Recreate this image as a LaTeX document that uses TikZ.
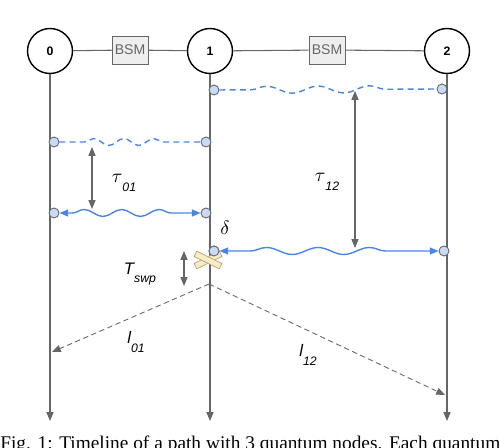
\documentclass[tikz,border=0pt]{standalone}
\usepackage{fontspec}
\setmainfont{Liberation Serif}
\setsansfont{Liberation Sans}
\usetikzlibrary{arrows.meta,decorations.pathmorphing}
\definecolor{linkblue}{HTML}{4A86E8}
\definecolor{dotfill}{HTML}{C9DAF8}
\definecolor{lgray}{HTML}{666666}
\definecolor{swapfill}{HTML}{FBEBC6}
\definecolor{swapdraw}{HTML}{B5A27A}
\tikzset{
	qnode/.style={circle, draw=black, line width=0.8pt, fill=white, minimum size=0.9cm, inner sep=0pt, font=\sffamily\bfseries\scriptsize},
	bsmbox/.style={draw=lgray, line width=0.5pt, fill=gray!13, minimum width=0.72cm, minimum height=0.56cm, inner sep=0pt, font=\sffamily\footnotesize, text=lgray},
	qubit/.style={circle, draw=lgray, line width=0.5pt, fill=dotfill, minimum size=0.2cm, inner sep=0pt},
	timeline/.style={draw=lgray, line width=0.6pt, -{Triangle[length=5pt,width=4pt]}},
	measure/.style={draw=lgray, line width=0.6pt, {Triangle[length=5pt,width=4pt]}-{Triangle[length=5pt,width=4pt]}},
	classic/.style={draw=lgray, line width=0.5pt, dash pattern=on 3pt off 2pt, -{Triangle[length=5pt,width=4pt]}},
	wave/.style n args={3}{decorate, decoration={snake, amplitude=0.07cm, segment length=#1, pre length=#2, post length=#3}},
	pairwait/.style={draw=linkblue, line width=0.8pt, dash pattern=on 3.4pt off 2.4pt},
	pairlink/.style={draw=linkblue, line width=0.8pt, {Triangle[length=5pt,width=4pt]}-{Triangle[length=5pt,width=4pt]}},
	swapbar/.style={draw=swapdraw, line width=0.4pt, fill=swapfill, minimum width=0.56cm, minimum height=0.12cm, inner sep=0pt},
	lbl/.style={inner sep=0pt, font=\sffamily\itshape}
}
\newcommand{\sublbl}[2]{{\fontsize{9.5}{10}\selectfont #1}\raisebox{-0.9ex}{\fontsize{7}{7}\selectfont #2}}
\begin{document}
\begin{tikzpicture}[x=0.02cm, y=-0.02cm]
	\useasboundingbox (0,0) rectangle (500,448);
	\begin{scope}
		\clip (0,0) rectangle (500,448);
		\node[anchor=north west, inner sep=0pt, font=\fontsize{11}{13}\selectfont] (caption) at (0,436) {\makebox[10cm][s]{Fig. 1: Timeline of a path with 3 quantum nodes. Each quantum}};
	\end{scope}
	\coordinate (t0) at (50,421);
	\coordinate (t1) at (210,421);
	\coordinate (t2) at (447,421);
	\node[qnode] (n0) at (50,51) {0};
	\node[qnode] (n1) at (210,51) {1};
	\node[qnode] (n2) at (447,51) {2};
	\node[bsmbox] (bsm01) at (130,50) {BSM};
	\node[bsmbox] (bsm12) at (327,50) {BSM};
	\draw[lgray, line width=0.6pt] (n0) -- (bsm01) -- (n1) -- (bsm12) -- (n2);
	\draw[timeline] (n0) -- (t0);
	\draw[timeline] (n1) -- (t1);
	\draw[timeline] (n2) -- (t2);
	\node[qubit] (q12a) at (214,90) {};
	\node[qubit] (q12b) at (442,89) {};
	\node[qubit] (q01a) at (54,142) {};
	\node[qubit] (q01b) at (206,142) {};
	\node[qubit] (p01a) at (54,213) {};
	\node[qubit] (p01b) at (206,213) {};
	\node[qubit] (p12a) at (214,251) {};
	\node[qubit] (p12b) at (444,251) {};
	\draw[pairwait, wave={1.03cm}{0.62cm}{0.58cm}] (q12a) -- (q12b);
	\draw[pairwait, wave={0.6cm}{0.5cm}{0.5cm}] (q01a) -- (q01b);
	\draw[pairlink, wave={0.75cm}{0.26cm}{0.26cm}] (p01a) -- (p01b);
	\draw[pairlink, wave={1.03cm}{0.62cm}{0.62cm}] (p12a) -- (p12b);
	\node[swapbar, rotate=26] (swapa) at (208,260) {};
	\node[swapbar, rotate=-26] (swapb) at (208,260) {};
	\node[qubit] at (p12a) {};
	\coordinate (tau01a) at (92,147);
	\coordinate (tau01b) at (92,209);
	\coordinate (tau12a) at (355,91);
	\coordinate (tau12b) at (355,248);
	\coordinate (swpa) at (184,251);
	\coordinate (swpb) at (184,286);
	\draw[measure] (tau01a) -- (tau01b);
	\draw[measure] (tau12a) -- (tau12b);
	\draw[measure] (swpa) -- (swpb);
	\coordinate (apex) at (209,284);
	\coordinate (end01) at (52,352);
	\coordinate (end12) at (445,395);
	\draw[classic] (apex) -- (end01);
	\draw[classic] (apex) -- (end12);
	\node[lbl] (ltau01) at (124,183) {\sublbl{\normalfont\fontsize{10.5}{11}\selectfont$\tau$}{01}};
	\node[lbl] (ltau12) at (327,182) {\sublbl{\normalfont\fontsize{10.5}{11}\selectfont$\tau$}{12}};
	\node[lbl] (ldelta) at (225,228) {\fontsize{11}{12}\selectfont$\delta$};
	\node[lbl] (ltswp) at (140,274) {\sublbl{T}{swp}};
	\node[lbl] (ll01) at (136,342) {\sublbl{l}{01}};
	\node[lbl] (ll12) at (308,355) {\sublbl{l}{12}};
\end{tikzpicture}
\end{document}
